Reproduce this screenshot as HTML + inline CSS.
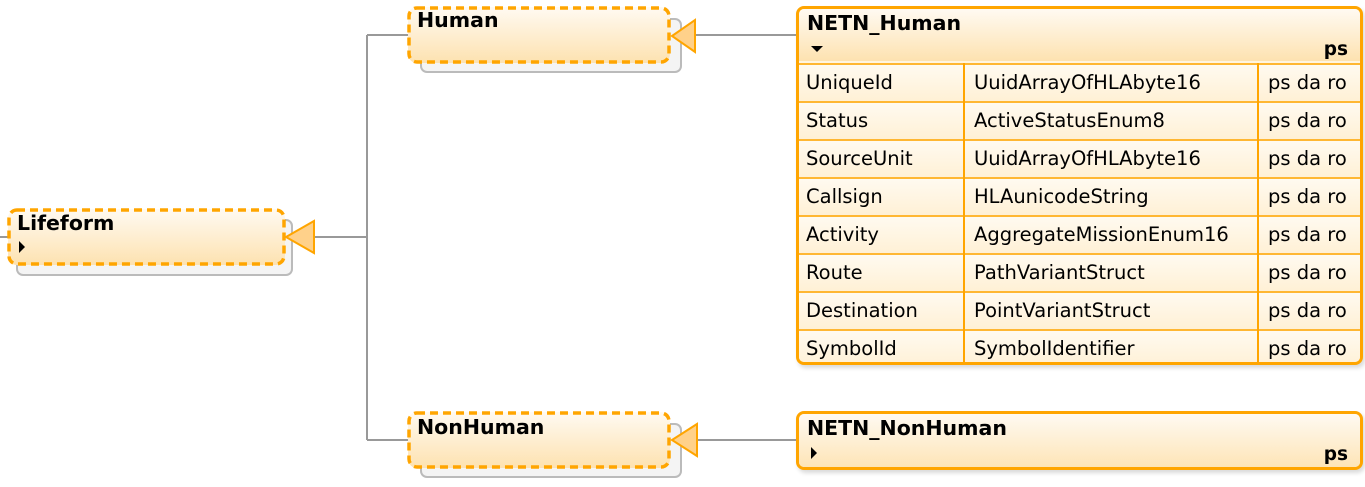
<!DOCTYPE html>
<html><head><meta charset="utf-8"><style>
body{margin:0;width:1365px;height:487px;background:#fff;position:relative;overflow:hidden;font-family:"DejaVu Sans","Liberation Sans",sans-serif;}
.abs{position:absolute;box-sizing:border-box;}
.back{border:2px solid #bbb;border-radius:7px;background:#f4f4f4;}
.grad{border-radius:9px;background:linear-gradient(#fffaf2,#fde2b0);}
.t{position:absolute;font-weight:bold;font-size:20.5px;color:#000;}
.solid{border:3px solid #ffa500;border-radius:8px;background:#fff5e0;overflow:hidden;box-shadow:2px 3px 4px rgba(0,0,0,.15);}
.hdr{position:absolute;left:0;top:0;right:0;height:52px;background:linear-gradient(#fffaf2,#fde2b0);}
.row{position:absolute;left:0;right:0;height:38px;border-top:2px solid #ffb733;font-size:19.5px;color:#000;background:linear-gradient(#fffaf0,#fff0d4);}
.row span{position:absolute;top:6px;}
.vl{position:absolute;top:0;bottom:0;width:2px;background:#ffa500;}
.ps{position:absolute;right:12px;font-weight:bold;font-size:18.5px;}
</style></head><body>
<svg class="abs" style="left:0;top:0" width="1365" height="487">
<g stroke="#999" stroke-width="2" fill="none">
<line x1="0" y1="237" x2="9" y2="237"/>
<line x1="313" y1="237" x2="367" y2="237"/>
<line x1="367" y1="35" x2="367" y2="440"/>
<line x1="367" y1="35" x2="409" y2="35"/>
<line x1="367" y1="440" x2="409" y2="440"/>
<line x1="695" y1="35" x2="798" y2="35"/>
<line x1="697" y1="440" x2="798" y2="440"/>
</g>
</svg>
<div class="abs back" style="left:16px;top:219px;width:277px;height:57px"></div>
<div class="abs grad" style="left:8px;top:209px;width:277px;height:56px"></div>
<div class="abs back" style="left:420px;top:18px;width:262px;height:55px"></div>
<div class="abs grad" style="left:408px;top:7px;width:262px;height:56px"></div>
<div class="abs back" style="left:420px;top:423px;width:262px;height:55px"></div>
<div class="abs grad" style="left:408px;top:412px;width:262px;height:56px"></div>
<svg class="abs" style="left:0;top:0" width="1365" height="487">
<g fill="none" stroke="#ffa500" stroke-width="3.5" stroke-dasharray="8,5">
<rect x="9" y="210" width="275" height="54" rx="8"/>
<rect x="409" y="8" width="260" height="54" rx="8"/>
<rect x="409" y="413" width="260" height="54" rx="8"/>
</g>
<g fill="#ffd18a" stroke="#ffa500" stroke-width="2">
<polygon points="286,237 314,221 314,253"/>
<polygon points="672,36 695,20 695,52"/>
<polygon points="672,440 697,424 697,456"/>
</g>
</svg>
<div class="t" style="left:17px;top:211px">Lifeform</div>
<div class="abs" style="left:19px;top:241px;width:0;height:0;border-top:6px solid transparent;border-bottom:6px solid transparent;border-left:6px solid #000"></div>
<div class="t" style="left:417px;top:8px">Human</div>
<div class="t" style="left:417px;top:415px">NonHuman</div>
<div class="abs solid" style="left:796px;top:6px;width:567px;height:359px">
<div class="hdr"></div>
<div class="t" style="left:8px;top:2px">NETN_Human</div>
<div class="abs" style="left:12px;top:37px;border-left:6px solid transparent;border-right:6px solid transparent;border-top:6px solid #000"></div>
<div class="ps" style="top:30px">ps</div>
<div class="row" style="top:54px"><span style="left:7px">UniqueId</span><span style="left:175px">UuidArrayOfHLAbyte16</span><span style="left:469px">ps da ro</span></div>
<div class="row" style="top:92px"><span style="left:7px">Status</span><span style="left:175px">ActiveStatusEnum8</span><span style="left:469px">ps da ro</span></div>
<div class="row" style="top:130px"><span style="left:7px">SourceUnit</span><span style="left:175px">UuidArrayOfHLAbyte16</span><span style="left:469px">ps da ro</span></div>
<div class="row" style="top:168px"><span style="left:7px">Callsign</span><span style="left:175px">HLAunicodeString</span><span style="left:469px">ps da ro</span></div>
<div class="row" style="top:206px"><span style="left:7px">Activity</span><span style="left:175px">AggregateMissionEnum16</span><span style="left:469px">ps da ro</span></div>
<div class="row" style="top:244px"><span style="left:7px">Route</span><span style="left:175px">PathVariantStruct</span><span style="left:469px">ps da ro</span></div>
<div class="row" style="top:282px"><span style="left:7px">Destination</span><span style="left:175px">PointVariantStruct</span><span style="left:469px">ps da ro</span></div>
<div class="row" style="top:320px"><span style="left:7px">SymbolId</span><span style="left:175px">SymbolIdentifier</span><span style="left:469px">ps da ro</span></div>
<div class="vl" style="left:164px;top:54px"></div>
<div class="vl" style="left:458px;top:54px"></div>
</div>
<div class="abs solid" style="left:796px;top:411px;width:567px;height:59px">
<div class="hdr" style="height:59px"></div>
<div class="t" style="left:8px;top:2px">NETN_NonHuman</div>
<div class="abs" style="left:12px;top:33px;border-top:6px solid transparent;border-bottom:6px solid transparent;border-left:6px solid #000"></div>
<div class="ps" style="top:30px">ps</div>
</div>
</body></html>
